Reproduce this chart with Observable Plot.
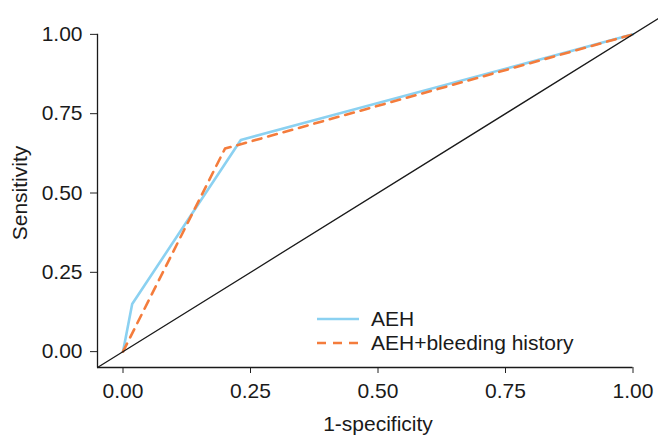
<!DOCTYPE html>
<html>
<head>
<meta charset="utf-8">
<script src="https://cdn.jsdelivr.net/npm/d3@7"></script>
<script src="https://cdn.jsdelivr.net/npm/@observablehq/plot@0.6"></script>
<style>
  html, body { margin: 0; padding: 0; background: #fff; }
  #wrap { position: relative; width: 658px; height: 435px; font-family: "Liberation Sans", Arial, sans-serif; }
  #legend { position: absolute; left: 317px; top: 307px; font-size: 21px; color: #1a1a1a; line-height: 24px; }
  #legend .row { display: flex; align-items: center; height: 24px; }
  #legend svg { margin-right: 12px; }
</style>
</head>
<body>
<div id="wrap"></div>
<script>
// ROC curve points (1-specificity, sensitivity)
const aehFpr = [0, 0.018, 0.231, 1];
const aehTpr = [0, 0.15, 0.667, 1];
const bleedFpr = [0, 0.2, 1];
const bleedTpr = [0, 0.64, 1];
const seriesNames = ["AEH", "AEH+bleeding history"];
const seriesColors = ["#8bd1f1", "#f47c3c"];
const tickValues = [0, 0.25, 0.5, 0.75, 1];
const xDomain = [-0.05, 1.05];
const yDomain = [-0.05, 1.05];

const aeh = aehFpr.map((x, i) => ({x, y: aehTpr[i]}));
const bleed = bleedFpr.map((x, i) => ({x, y: bleedTpr[i]}));
const diag = xDomain.map(v => ({x: v, y: v}));
const axisEnd = tickValues[tickValues.length - 1];

const fmt = d3.format(".2f");
const chart = Plot.plot({
  width: 658,
  height: 435,
  marginLeft: 97,
  marginRight: 0,
  marginTop: 18,
  marginBottom: 68,
  style: {fontFamily: "Liberation Sans, Arial, sans-serif", fontSize: "21px", color: "#1a1a1a", background: "#fff"},
  x: {domain: xDomain},
  y: {domain: yDomain},
  marks: [
    Plot.axisX({ticks: tickValues, tickFormat: fmt, tickSize: 6, tickPadding: 10, label: null, stroke: "#222", fontSize: 21}),
    Plot.axisY({ticks: tickValues, tickFormat: fmt, tickSize: 7, tickPadding: 8, label: null, stroke: "#222", fontSize: 21}),
    Plot.ruleX([xDomain[0]], {y1: yDomain[0], y2: axisEnd, stroke: "#1a1a1a", strokeWidth: 1.3}),
    Plot.ruleY([yDomain[0]], {x1: xDomain[0], x2: axisEnd, stroke: "#1a1a1a", strokeWidth: 1.3}),
    Plot.line(aeh, {x: "x", y: "y", stroke: seriesColors[0], strokeWidth: 2.6}),
    Plot.line(bleed, {x: "x", y: "y", stroke: seriesColors[1], strokeWidth: 2.6, strokeDasharray: "9,7"}),
    Plot.line(diag, {x: "x", y: "y", stroke: "#1a1a1a", strokeWidth: 1.3}),
    Plot.text(["Sensitivity"], {frameAnchor: "left", lineAnchor: "middle", textAnchor: "middle", rotate: -90, dx: -77, fontSize: 21, fill: "#1a1a1a"}),
    Plot.text(["1-specificity"], {frameAnchor: "bottom", lineAnchor: "middle", textAnchor: "middle", dy: 57, fontSize: 21, fill: "#1a1a1a"})
  ]
});
const wrap = document.getElementById("wrap");
wrap.appendChild(chart);

const legend = document.createElement("div");
legend.id = "legend";
seriesNames.forEach((name, i) => {
  const row = document.createElement("div");
  row.className = "row";
  const dash = i === 1 ? 'stroke-dasharray="9,7"' : '';
  row.innerHTML = `<svg width="42" height="6"><line x1="0" y1="3" x2="42" y2="3" stroke="${seriesColors[i]}" stroke-width="2.6" ${dash}/></svg><span>${name}</span>`;
  legend.appendChild(row);
});
wrap.appendChild(legend);
</script>
</body>
</html>
